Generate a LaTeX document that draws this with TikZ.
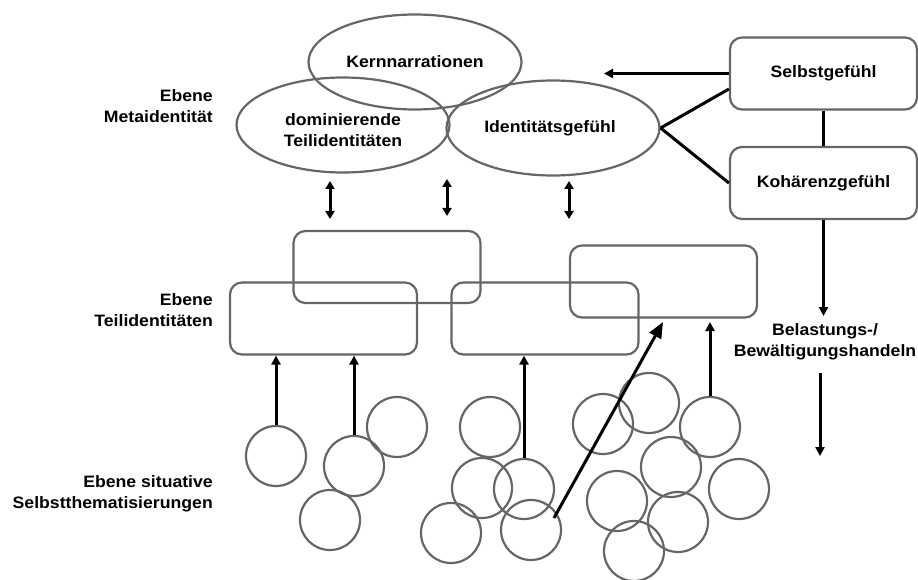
\documentclass[tikz,border=0pt]{standalone}
\usepackage{fontspec}
\setmainfont{Liberation Sans}[FakeStretch=1.07]
\usetikzlibrary{shapes.geometric,arrows.meta}
\begin{document}
\begin{tikzpicture}[x=1pt,y=-1pt,
  lbl/.style={font=\fontsize{16.5}{21.5}\selectfont\bfseries,align=center,inner sep=0},
  side/.style={font=\fontsize{16.5}{21.5}\selectfont\bfseries,align=right,inner sep=0,anchor=east},
  ell/.style={ellipse,draw=black!60,line width=2.2pt,minimum width=213pt,minimum height=95pt,inner sep=0},
  rbox/.style={rectangle,rounded corners=12pt,draw=black!60,line width=2.2pt,minimum width=187pt,minimum height=72pt,inner sep=0},
  kbox/.style={rbox,font=\fontsize{16.5}{21.5}\selectfont\bfseries},
  circ/.style={circle,draw=black!60,line width=2.2pt,minimum size=60pt,inner sep=0},
  arr/.style={line width=3pt,-{Triangle[length=9pt,width=9pt]}},
  darr/.style={line width=3pt,{Triangle[length=8pt,width=9pt]}-{Triangle[length=8pt,width=9pt]}},
  ln/.style={line width=3pt}]
\useasboundingbox (0,0) rectangle (918,580);
% ellipses
\node[ell] (kern) at (415,62) {};
\node[ell] (dom) at (343,125) {};
\node[ell] (id) at (553,128) {};
\node[lbl] (kernt) at (415,62) {Kernnarrationen};
\node[lbl] (domt) at (343,130) {dominierende\\Teilidentitäten};
\node[lbl] (idt) at (550,128) {Identitätsgefühl};
% right boxes
\node[kbox] (selbst) at (823.5,73.5) {Selbstgefühl};
\node[kbox] (koh) at (823.5,183) {Kohärenzgefühl};
\coordinate (selbstarr) at (604,73.5);
\draw[arr] (selbst.west) -- (selbstarr);
\draw[ln] (selbst.south) -- (koh.north);
\draw[ln] (id.east) -- ([yshift=-15.5pt]selbst.west);
\draw[ln] (id.east) -- (koh.west);
\coordinate (kohend) at (823.5,316);
\draw[arr] (koh.south) -- (kohend);
\node[lbl] (bel) at (825,342) {Belastungs-/\\Bewältigungshandeln};
\coordinate (bela) at (820,373);
\coordinate (belb) at (820,456);
\draw[arr] (bela) -- (belb);
% double arrows
\coordinate (d1a) at (330,181); \coordinate (d1b) at (330,219);
\coordinate (d2a) at (447,179); \coordinate (d2b) at (447,216);
\coordinate (d3a) at (569,181); \coordinate (d3b) at (569,219);
\draw[darr] (d1a) -- (d1b);
\draw[darr] (d2a) -- (d2b);
\draw[darr] (d3a) -- (d3b);
% boxes of Teilidentitaeten
\node[rbox] (r1) at (387,267) {};
\node[rbox] (r2) at (323.5,318.5) {};
\node[rbox] (r3) at (545,318.5) {};
\node[rbox] (r4) at (663.5,281.5) {};
% side labels
\node[side] (l1) at (213,106) {Ebene\\Metaidentität};
\node[side] (l2) at (213,310) {Ebene\\Teilidentitäten};
\node[side] (l3) at (213,494) {Ebene situative\\Selbstthematisierungen};
% circles
\node[circ] (c1) at (276,456) {};
\node[circ] (c2) at (354,466) {};
\node[circ] (c3) at (397,427) {};
\node[circ] (c4) at (330,520) {};
\node[circ] (c5) at (490,427) {};
\node[circ] (c6) at (482,488) {};
\node[circ] (c7) at (524,489) {};
\node[circ] (c8) at (451,533) {};
\node[circ] (c9) at (531,530) {};
\node[circ] (c10) at (603,424) {};
\node[circ] (c11) at (649,403) {};
\node[circ] (c12) at (710,427) {};
\node[circ] (c13) at (671,467) {};
\node[circ] (c14) at (739,489) {};
\node[circ] (c15) at (617,501) {};
\node[circ] (c16) at (678,522) {};
\node[circ] (c17) at (634,551) {};
% up arrows
\draw[arr] (c1.north) -- (c1.north |- r2.south);
\draw[arr] (c2.north) -- (c2.north |- r2.south);
\draw[arr] (c7.north) -- (c7.north |- r3.south);
\coordinate (t4) at (710,322);
\draw[arr] (c12.north) -- (t4);
\coordinate (t5) at (663,322);
\coordinate (s5) at (554,518);
\draw[line width=3pt,-{Triangle[length=16pt,width=13pt]}] (s5) -- (t5);
\end{tikzpicture}
\end{document}
